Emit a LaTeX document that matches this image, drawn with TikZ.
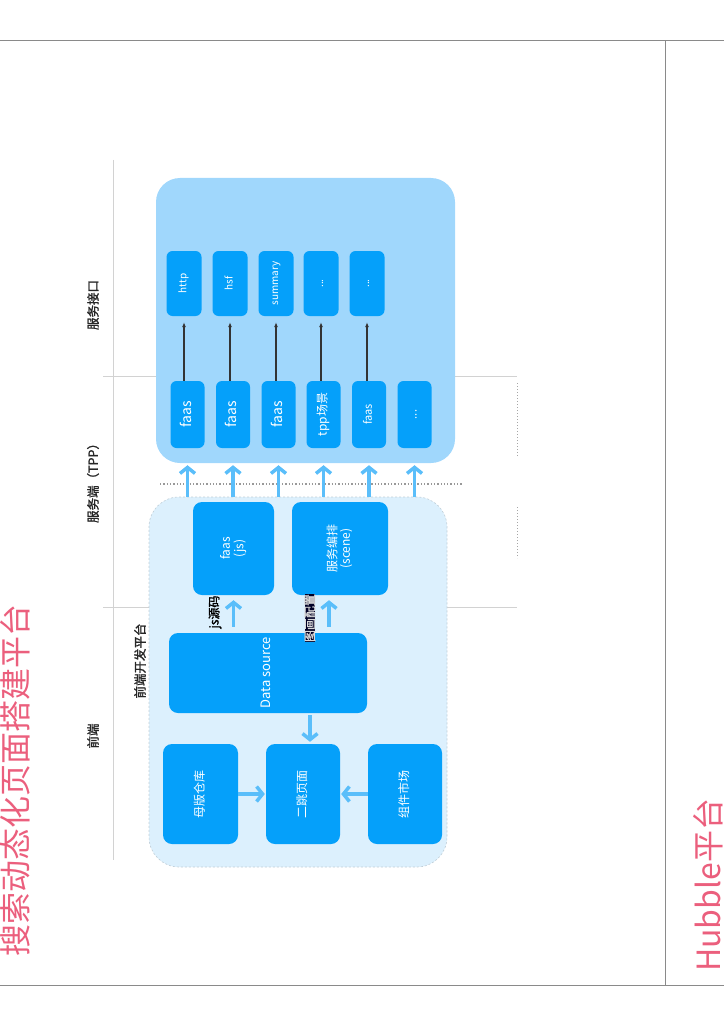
\documentclass[tikz,border=0pt]{standalone}
\usepackage{fontspec}
\usepackage{graphicx}
\setmainfont{Noto Sans CJK SC}
\newfontfamily\headfont[FakeBold=1.6]{Noto Sans CJK SC}
\usetikzlibrary{arrows.meta,positioning}
\definecolor{hubblepink}{HTML}{EB5F7D}
\definecolor{boxblue}{HTML}{05A0FA}
\definecolor{backblue}{HTML}{A0D7FC}
\definecolor{frontblue}{HTML}{DCF0FD}
\definecolor{flowblue}{HTML}{5ABEFA}
\definecolor{rulegray}{HTML}{D2D2D2}
\definecolor{framegray}{HTML}{8A8A8A}
\newcommand{\vtext}[1]{\rotatebox{90}{\begin{tabular}{@{}c@{}}#1\end{tabular}}}
\newcommand{\fsz}[1]{\fontsize{#1}{#1}\selectfont}

\tikzset{
  blockbox/.style={fill=boxblue,rounded corners=6pt,text=white,inner sep=0pt},
  pagetitle/.style={rotate=90,text=hubblepink,font=\fsz{32}},
  colhead/.style={rotate=90,text=black!85,font=\headfont\fsz{12.5}},
  flowarrow/.style={flowblue,line width=3.5pt,-{Straight Barb[length=6pt,width=15pt]}},
  callarrow/.style={black!80,line width=1.1pt,-{Latex[length=5pt,width=4pt]}}
}

\begin{document}
\begin{tikzpicture}[x=1pt,y=-1pt,>=Stealth,every node/.style={inner sep=0pt}]
\useasboundingbox (0,0) rectangle (724,1024);
% page frame
\draw[framegray,line width=1pt] (0,41) -- (724,41);
\draw[framegray,line width=1pt] (0,985) -- (724,985);
\draw[framegray,line width=1pt] (665,41) -- (665,985);
\node[pagetitle,anchor=west] (title) at (15,957) {搜索动态化页面搭建平台};
\node[pagetitle,anchor=west] (hubble) at (708,972) {Hubble平台};

% column rules
\draw[rulegray,line width=0.8pt] (113,160) -- (113,860);
\draw[rulegray,line width=0.8pt] (103,376) -- (517,376);
\draw[rulegray,line width=0.8pt] (103,607) -- (517,607);
\draw[gray!70,dotted,line width=1pt] (517,383) -- (517,457);
\draw[gray!70,dotted,line width=1pt] (517,507) -- (517,558);
\node[colhead] (hapi) at (93,305) {服务接口};
\node[colhead] (htpp) at (93,480) {服务端（TPP）};
\node[colhead] (hfront) at (93,736) {前端};
\node[colhead] (hplat) at (140,661) {前端开发平台};

% back end area
\node[fill=backblue,rounded corners=24pt,minimum width=299pt,minimum height=285pt] (back) at (305.5,320.5) {};
\node[blockbox,minimum width=35pt,minimum height=65pt,font=\fsz{10}] (i1) at (184,283.5) {\vtext{http}};
\node[blockbox,minimum width=35pt,minimum height=65pt,font=\fsz{10}] (i2) at (230,283.5) {\vtext{hsf}};
\node[blockbox,minimum width=35pt,minimum height=65pt,font=\fsz{10}] (i3) at (276,283.5) {\vtext{summary}};
\node[blockbox,minimum width=35pt,minimum height=65pt,font=\fsz{10}] (i4) at (321,283.5) {\vtext{...}};
\node[blockbox,minimum width=35pt,minimum height=65pt,font=\fsz{10}] (i5) at (367,283.5) {\vtext{...}};
\node[blockbox,minimum width=34pt,minimum height=67pt,font=\fsz{14}] (t1) at (187.5,414.5) {\vtext{faas}};
\node[blockbox,minimum width=34pt,minimum height=67pt,font=\fsz{14}] (t2) at (233,414.5) {\vtext{faas}};
\node[blockbox,minimum width=34pt,minimum height=67pt,font=\fsz{14}] (t3) at (278.5,414.5) {\vtext{faas}};
\node[blockbox,minimum width=34pt,minimum height=67pt,font=\fsz{12}] (t4) at (323.5,414.5) {\vtext{tpp场景}};
\node[blockbox,minimum width=34pt,minimum height=67pt,font=\fsz{11}] (t5) at (369,414.5) {\vtext{faas}};
\node[blockbox,minimum width=34pt,minimum height=67pt,font=\fsz{11}] (t6) at (414.5,414.5) {\vtext{...}};
\foreach \n in {1,...,5}
  \draw[callarrow,shorten >=6pt] (i\n.south |- t\n.north) -- (i\n.south);

% front end platform
\node[fill=frontblue,draw=frontblue!70!gray,dash pattern=on 2pt off 2pt,line width=0.6pt,rounded corners=30pt,minimum width=298pt,minimum height=370pt] (front) at (298,682) {};
\node[blockbox,rounded corners=9pt,minimum width=81pt,minimum height=93pt,font=\fsz{12}] (fjs) at (233.5,548.5) {\vtext{faas\\(js)}};
\node[blockbox,rounded corners=9pt,minimum width=96pt,minimum height=93pt,font=\fsz{12}] (scene) at (340,548.5) {\vtext{服务编排\\(scene)}};
\node[blockbox,rounded corners=9pt,minimum width=198pt,minimum height=80pt,font=\fsz{13}] (ds) at (268,673) {\vtext{Data source}};
\node[blockbox,rounded corners=9pt,minimum width=75pt,minimum height=100pt,font=\fsz{12}] (mother) at (200.5,794) {\vtext{母版仓库}};
\node[blockbox,rounded corners=9pt,minimum width=74pt,minimum height=100pt,font=\fsz{12}] (page) at (303,794) {\vtext{二跳页面}};
\node[blockbox,rounded corners=9pt,minimum width=74pt,minimum height=100pt,font=\fsz{12}] (market) at (405,794) {\vtext{组件市场}};

% flows
\draw[gray!80,dotted,line width=1.3pt] (160,484) -- (462,484);
\foreach \n in {1,...,6}
  \draw[flowarrow,shorten >=2pt] (front.north -| t\n.south) -- (back.south -| t\n.south);
\draw[flowarrow,shorten <=6pt,shorten >=5pt] (ds.north -| fjs.south) -- (fjs.south);
\draw[flowarrow,shorten <=6pt,shorten >=5pt] ([xshift=-11pt]scene.south |- ds.north) -- ([xshift=-11pt]scene.south);
\draw[flowarrow,shorten <=2pt,shorten >=2pt] ([xshift=7pt]page.north |- ds.south) -- ([xshift=7pt]page.north);
\draw[flowarrow,shorten >=1pt] (mother.east) -- (page.west);
\draw[flowarrow,shorten >=1pt] (market.west) -- (page.east);
\node[rotate=90,font=\headfont\fsz{12},text=black] (jslabel) at (215,612) {js源码};
\node[rotate=90,font=\headfont\fsz{12},fill=black!85!blue,text=white!85!black] (cfglabel) at (310,618) {图画配置};
\end{tikzpicture}
\end{document}
